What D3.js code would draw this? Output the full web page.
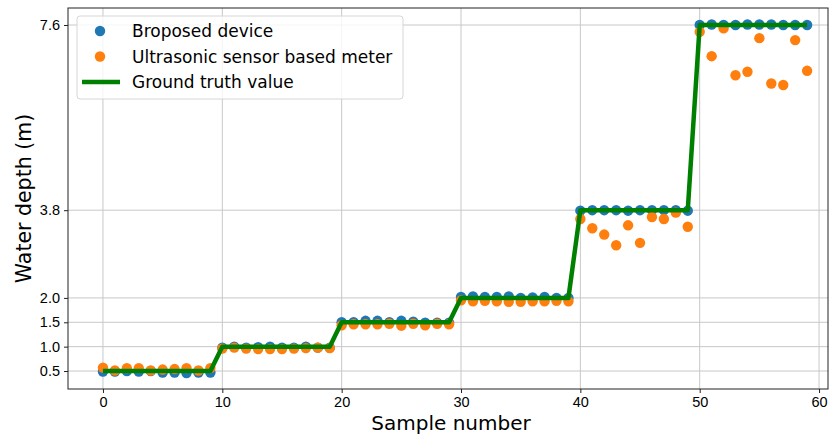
<!DOCTYPE html>
<html>
<head>
<meta charset="utf-8">
<script src="https://cdn.jsdelivr.net/npm/d3@7"></script>
<style>
  body { margin: 0; background: #fff; }
  svg { display: block; font-family: "DejaVu Sans", sans-serif; }
  .axis path, .axis line { stroke: #222; }
  .axis text { fill: #000; font-size: 14.5px; }
  .grid line { stroke: #c8c8c8; stroke-width: 1; }
</style>
</head>
<body>
<div id="chart"></div>
<script>

// sample numbers 0..59
const proposed = [
  0.49, 0.49, 0.50, 0.49, 0.50, 0.47, 0.47, 0.46, 0.47, 0.47,
  0.98, 1.00, 0.98, 0.99, 1.00, 0.98, 0.98, 1.00, 0.98, 0.98,
  1.50, 1.50, 1.53, 1.53, 1.50, 1.53, 1.51, 1.49, 1.49, 1.49,
  2.02, 2.03, 2.02, 2.02, 2.03, 2.00, 2.01, 2.02, 2.00, 2.00,
  3.79, 3.80, 3.80, 3.80, 3.79, 3.80, 3.80, 3.80, 3.80, 3.79,
  7.60, 7.61, 7.60, 7.60, 7.61, 7.61, 7.61, 7.60, 7.60, 7.60
];

const ultrasonic = [
  0.57, 0.51, 0.56, 0.56, 0.51, 0.53, 0.54, 0.56, 0.51, 0.56,
  0.96, 0.98, 0.96, 0.95, 0.95, 0.95, 0.96, 0.97, 0.98, 0.97,
  1.44, 1.46, 1.46, 1.46, 1.47, 1.43, 1.47, 1.44, 1.47, 1.46,
  1.95, 1.93, 1.94, 1.93, 1.92, 1.92, 1.93, 1.93, 1.94, 1.93,
  3.62, 3.43, 3.30, 3.08, 3.49, 3.13, 3.66, 3.62, 3.75, 3.46,
  7.46, 6.96, 7.53, 6.57, 6.64, 7.33, 6.40, 6.37, 7.29, 6.66
];

const groundTruth = [
  0.5, 0.5, 0.5, 0.5, 0.5, 0.5, 0.5, 0.5, 0.5, 0.5,
  1.0, 1.0, 1.0, 1.0, 1.0, 1.0, 1.0, 1.0, 1.0, 1.0,
  1.5, 1.5, 1.5, 1.5, 1.5, 1.5, 1.5, 1.5, 1.5, 1.5,
  2.0, 2.0, 2.0, 2.0, 2.0, 2.0, 2.0, 2.0, 2.0, 2.0,
  3.8, 3.8, 3.8, 3.8, 3.8, 3.8, 3.8, 3.8, 3.8, 3.8,
  7.6, 7.6, 7.6, 7.6, 7.6, 7.6, 7.6, 7.6, 7.6, 7.6
];

const xTicks = [0, 10, 20, 30, 40, 50, 60];
const yTicks = [0.5, 1.0, 1.5, 2.0, 3.8, 7.6];

const legendItems = [
  { label: 'Broposed device', type: 'dot', color: '#1f77b4' },
  { label: 'Ultrasonic sensor based meter', type: 'dot', color: '#ff7f0e' },
  { label: 'Ground truth value', type: 'line', color: '#008000' }
];

class depthChart {

  constructor(opts) {
    this.element = opts.element;
    this.draw();
  }

  draw() {
    this.width = 829;
    this.height = 438;
    this.margin = { top: 8, right: 1, bottom: 49, left: 68 };

    this.innerWidth = this.width - (this.margin.left + this.margin.right);
    this.innerHeight = this.height - (this.margin.top + this.margin.bottom);

    const svg = d3.select(this.element).append('svg')
      .attr('width', this.width)
      .attr('height', this.height);

    this.plot = svg.append('g')
      .attr('transform', `translate(${this.margin.left},${this.margin.top})`);

    this.createScales();
    this.addGrid();
    this.addPoints();
    this.addLine();
    this.addAxes();
    this.addLegend();
  }

  createScales() {
    this.xScale = d3.scaleLinear()
      .domain([-2.93, 60.75])
      .range([0, this.innerWidth]);

    this.yScale = d3.scaleLinear()
      .domain([0.131, 7.949])
      .range([this.innerHeight, 0]);
  }

  addGrid() {
    const grid = this.plot.append('g').attr('class', 'grid');

    grid.selectAll('.vgrid')
      .data(xTicks)
      .enter().append('line')
        .attr('x1', d => this.xScale(d))
        .attr('x2', d => this.xScale(d))
        .attr('y1', 0)
        .attr('y2', this.innerHeight);

    grid.selectAll('.hgrid')
      .data(yTicks)
      .enter().append('line')
        .attr('x1', 0)
        .attr('x2', this.innerWidth)
        .attr('y1', d => this.yScale(d))
        .attr('y2', d => this.yScale(d));
  }

  addPoints() {
    const series = [
      { values: proposed, color: '#1f77b4' },
      { values: ultrasonic, color: '#ff7f0e' }
    ];

    series.forEach(s => {
      this.plot.append('g')
        .selectAll('circle')
        .data(s.values)
        .enter().append('circle')
          .attr('cx', (d, i) => this.xScale(i))
          .attr('cy', d => this.yScale(d))
          .attr('r', 5.2)
          .attr('fill', s.color);
    });
  }

  addLine() {
    const line = d3.line()
      .x((d, i) => this.xScale(i))
      .y(d => this.yScale(d));

    this.plot.append('path')
      .datum(groundTruth)
      .attr('fill', 'none')
      .attr('stroke', '#008000')
      .attr('stroke-width', 4.5)
      .attr('stroke-linejoin', 'round')
      .attr('d', line);
  }

  addAxes() {
    const xAxis = d3.axisBottom(this.xScale)
      .tickValues(xTicks)
      .tickSize(4)
      .tickPadding(4)
      .tickFormat(d3.format('d'));

    const yAxis = d3.axisLeft(this.yScale)
      .tickValues(yTicks)
      .tickSize(4)
      .tickPadding(4)
      .tickFormat(d3.format('.1f'));

    this.plot.append('g')
      .attr('class', 'x axis')
      .attr('transform', `translate(0, ${this.innerHeight})`)
      .call(xAxis)
      .call(g => g.select('.domain').remove());

    this.plot.append('g')
      .attr('class', 'y axis')
      .call(yAxis)
      .call(g => g.select('.domain').remove());

    // frame on all four sides
    this.plot.append('rect')
      .attr('x', 0)
      .attr('y', 0)
      .attr('width', this.innerWidth)
      .attr('height', this.innerHeight)
      .attr('fill', 'none')
      .attr('stroke', '#222')
      .attr('stroke-width', 1);

    this.plot.append('text')
      .attr('x', this.innerWidth / 2 + this.xScale(-2.93) + 3)
      .attr('y', this.innerHeight + 41)
      .attr('text-anchor', 'middle')
      .style('font-size', '20px')
      .style('fill', '#000')
      .text('Sample number');

    this.plot.append('text')
      .attr('transform', `translate(${31 - this.margin.left}, ${this.innerHeight / 2}) rotate(-90)`)
      .attr('text-anchor', 'middle')
      .style('font-size', '20.5px')
      .style('fill', '#000')
      .text('Water depth (m)');
  }

  addLegend() {
    const legend = this.plot.append('g')
      .attr('transform', `translate(${77 - this.margin.left}, ${16 - this.margin.top})`);

    legend.append('rect')
      .attr('width', 326)
      .attr('height', 83)
      .attr('rx', 3)
      .attr('fill', 'white')
      .attr('fill-opacity', 0.8)
      .attr('stroke', '#d6d6d6');

    const rows = legend.selectAll('.legend-row')
      .data(legendItems)
      .enter().append('g')
        .attr('class', 'legend-row')
        .attr('transform', (d, i) => `translate(0, ${15 + i * 25.5})`);

    rows.filter(d => d.type === 'dot').append('circle')
      .attr('cx', 23)
      .attr('cy', 0)
      .attr('r', 5.2)
      .attr('fill', d => d.color);

    rows.filter(d => d.type === 'line').append('line')
      .attr('x1', 5)
      .attr('x2', 43)
      .attr('stroke', d => d.color)
      .attr('stroke-width', 4.5);

    rows.append('text')
      .attr('x', 55)
      .attr('y', 6)
      .style('font-size', '17px')
      .style('fill', '#000')
      .text(d => d.label);
  }

}

new depthChart({ element: document.getElementById('chart') });

</script>
</body>
</html>
